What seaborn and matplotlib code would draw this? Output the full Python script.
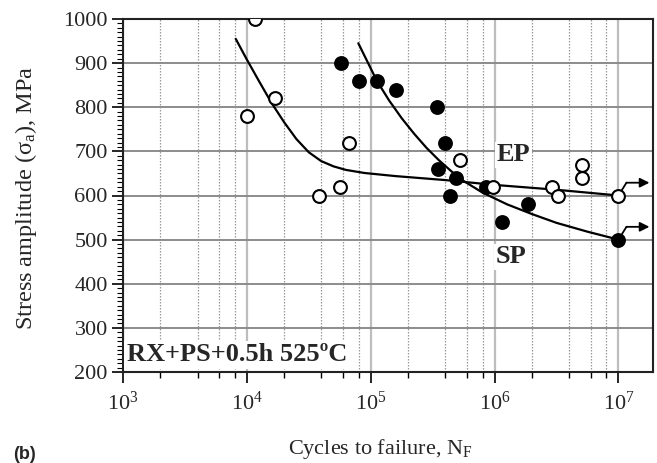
import numpy as np
import pandas as pd
import matplotlib
matplotlib.use("Agg")
import matplotlib.pyplot as plt
import seaborn as sns
from matplotlib.ticker import LogLocator, MultipleLocator, FuncFormatter, NullFormatter

# ---------------- data ----------------
ep_cycles = [1.17e4, 1.68e4, 1.0e4, 6.65e4, 5.6e4, 3.8e4, 5.28e5, 9.7e5, 2.9e6, 3.25e6, 5.1e6, 5.1e6, 1.0e7]
ep_stress = [1000, 820, 780, 720, 620, 600, 680, 620, 620, 600, 670, 640, 600]

sp_cycles = [5.8e4, 8.05e4, 1.12e5, 1.6e5, 3.4e5, 3.95e5, 3.5e5, 4.84e5, 4.34e5, 8.57e5, 1.15e6, 1.86e6, 1.0e7]
sp_stress = [900, 860, 860, 840, 800, 720, 660, 640, 600, 620, 540, 580, 500]

ep_fit_cycles = [8.13e3, 1.0e4, 1.26e4, 1.58e4, 2.0e4, 2.51e4, 3.16e4, 3.98e4, 5.01e4,
                 6.31e4, 8.91e4, 1.58e5, 3.98e5, 1.0e6, 3.16e6, 1.0e7]
ep_fit_stress = [955, 908, 858, 810, 766, 728, 698, 678, 666, 658, 651, 644, 635, 624, 613, 600]

sp_fit_cycles = [7.94e4, 1.12e5, 1.41e5, 1.78e5, 2.24e5, 2.82e5, 3.55e5, 4.47e5, 5.62e5,
                 7.94e5, 1.26e6, 2.0e6, 3.16e6, 5.62e6, 1.0e7]
sp_fit_stress = [945, 860, 815, 775, 740, 708, 680, 655, 633, 607, 580, 558, 538, 518, 500]

runout_cycles = [1.0e7, 1.0e7]
runout_stress = [600, 500]

y_ticks = [200, 300, 400, 500, 600, 700, 800, 900, 1000]

ep_df = pd.DataFrame({"N": ep_cycles, "S": ep_stress})
sp_df = pd.DataFrame({"N": sp_cycles, "S": sp_stress})
ep_fit = pd.DataFrame({"N": ep_fit_cycles, "S": ep_fit_stress})
sp_fit = pd.DataFrame({"N": sp_fit_cycles, "S": sp_fit_stress})

# ---------------- style ----------------
sns.set_theme(style="white")
plt.rcParams["font.family"] = ["Liberation Serif", "DejaVu Serif"]
plt.rcParams["mathtext.fontset"] = "custom"
plt.rcParams["mathtext.rm"] = "Liberation Serif"
plt.rcParams["mathtext.it"] = "Liberation Serif:italic"
plt.rcParams["mathtext.bf"] = "Liberation Serif:bold"

fig = plt.figure(figsize=(6.57, 4.63), dpi=100)
ax = fig.add_axes([123 / 657, 1 - 372 / 463, 530 / 657, 353 / 463])

ax.set_xscale("log")
ax.set_xlim(1e3, 1.9e7)
ax.set_ylim(200, 1000)

# fitted curves
sns.lineplot(data=ep_fit, x="N", y="S", ax=ax, color="black", lw=1.6,
             sort=False, estimator=None, zorder=3)
sns.lineplot(data=sp_fit, x="N", y="S", ax=ax, color="black", lw=1.6,
             sort=False, estimator=None, zorder=3)

# run-out arrows
for n, s in zip(runout_cycles, runout_stress):
    nc = n * 10 ** (8 / 124)
    nt = n * 10 ** (31 / 124)
    ax.plot([n, nc], [s, s + 29], color="black", lw=1.3, zorder=3)
    ax.annotate("", xy=(nt, s + 29), xytext=(nc, s + 29),
                arrowprops=dict(arrowstyle="-|>", color="black", lw=1.3,
                                mutation_scale=14, shrinkA=0, shrinkB=0),
                zorder=3, annotation_clip=False)

# data points
sns.scatterplot(data=sp_df, x="N", y="S", ax=ax, s=90, color="black",
                edgecolor="black", linewidth=1.2, zorder=4)
sns.scatterplot(data=ep_df, x="N", y="S", ax=ax, s=85, color="white",
                edgecolor="black", linewidth=1.5, zorder=5)

# ticks
ax.xaxis.set_major_locator(LogLocator(base=10, numticks=10))
ax.xaxis.set_minor_locator(LogLocator(base=10, subs=(2, 4, 6, 8), numticks=20))
ax.xaxis.set_major_formatter(FuncFormatter(lambda v, p: r"$\mathregular{10^{%d}}$" % round(np.log10(v))))
ax.xaxis.set_minor_formatter(NullFormatter())
ax.set_yticks(y_ticks)
ax.yaxis.set_minor_locator(MultipleLocator(10))

ax.tick_params(axis="x", which="major", direction="out", length=8, width=1.2,
               color="black", labelsize=16, pad=6, bottom=True)
ax.tick_params(axis="x", which="minor", direction="out", length=4, width=1.0,
               color="black", bottom=True)
ax.tick_params(axis="y", which="major", direction="out", length=8, width=1.2,
               color="black", labelsize=16, pad=3, left=True)
ax.tick_params(axis="y", which="minor", direction="out", length=4.5, width=0.8,
               color="black", left=True)

# grid
ax.grid(axis="y", which="major", color="#8c8c8c", lw=1.4, ls="-")
ax.grid(axis="x", which="major", color="#bdbdbd", lw=1.6, ls="-")
ax.grid(axis="x", which="minor", color="#9a9a9a", lw=0.9, ls=(0, (1.2, 1.2)))
ax.set_axisbelow(True)

for sp in ax.spines.values():
    sp.set_color("#222222")
    sp.set_linewidth(1.5)

ax.set_xlabel("")
ax.set_ylabel("")

# annotations
ax.text(0.007, 0.03, "RX+PS+0.5h 525ºC", transform=ax.transAxes,
        fontsize=19, fontweight="bold", ha="left", va="baseline", zorder=6,
        bbox=dict(facecolor="white", edgecolor="none", pad=2))
ax.text(1.42e6, 692, "EP", fontsize=19, fontweight="bold", ha="center", va="center",
        zorder=6, bbox=dict(facecolor="white", edgecolor="none", pad=1))
ax.text(1.35e6, 461, "SP", fontsize=19, fontweight="bold", ha="center", va="center",
        zorder=6, bbox=dict(facecolor="white", edgecolor="none", pad=1))

fig.text(26 / 657, 1 - 198 / 463, r"Stress amplitude ($\mathregular{\sigma_a}$), MPa",
         rotation=90, ha="center", va="center", fontsize=17.5)
fig.text(380 / 657, 1 - 454 / 463, r"Cycles to failure, N$_\mathregular{F}$",
         ha="center", va="baseline", fontsize=16)
fig.text(13 / 657, 1 - 459 / 463, "(b)", ha="left", va="baseline", fontsize=13,
         fontweight="bold", family=["Liberation Sans", "DejaVu Sans"])

fig.savefig("out.png", dpi=100)
